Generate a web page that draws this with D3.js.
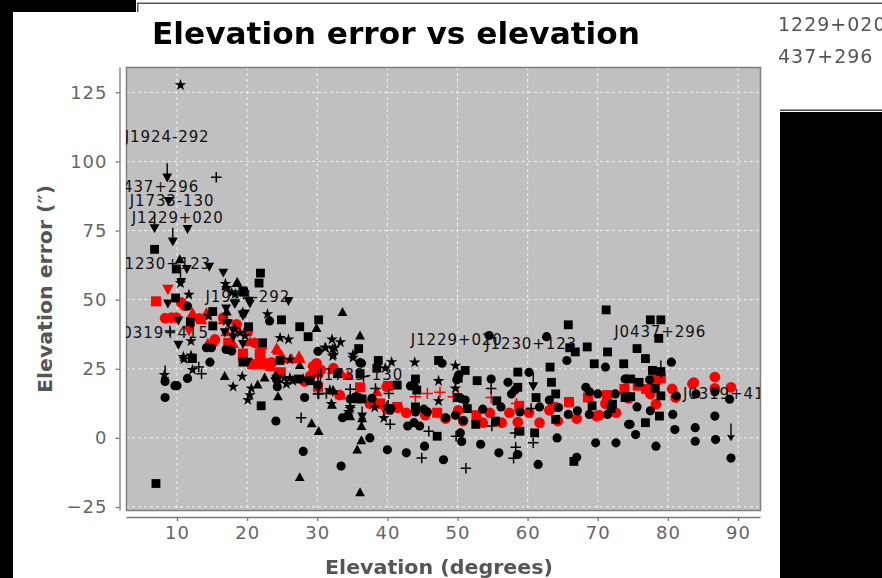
<!DOCTYPE html>
<html><head><meta charset="utf-8">
<script src="https://cdn.jsdelivr.net/npm/d3@7"></script>
<style>html,body{margin:0;padding:0;background:#000;overflow:hidden}svg{display:block;filter:blur(0.35px)}text{font-family:"DejaVu Sans",sans-serif}</style>
</head><body><svg id="c" width="882" height="578"></svg>
<script>
const xTicks=[10,20,30,40,50,60,70,80,90];
const yTicks=[-25,0,25,50,75,100,125];
const titleText="Elevation error vs elevation";
const xTitle="Elevation (degrees)";
const yTitle="Elevation error (″)";
const sideLabels=["1229+020","437+296"];
const labelNames=["J1924-292","J0437+296","J1733-130","J1229+020","J1230+123","J1924-292","J0319+415","J1733-130","J1229+020","J1230+123","J0437+296","J0319+415"];
const labelElev=[8.6,6.6,9.3,10.1,8.3,20.1,8,36.2,49.9,60.5,78.9,88.7];
const labelErr=[109.1,91,86,79.5,63.2,51,38,23,35.6,34.2,38.6,16];

const blackCircles=[[8.3,14.6],[8.3,20.4],[9.7,18.9],[10,18.9],[11.5,21.5],[11.5,47.6],[14.7,27.4],[14.2,32.6],[14.9,32.6],[17,32],[17.5,32],[17.8,31.4],[24.1,6.1],[28,-4.9],[33.4,-10.2],[37.5,0],[40,-4.3],[28.2,14.6],[33.6,7.3],[34.4,8.2],[23.2,42.3],[30.1,31.3],[30.1,19.1],[24.3,18.5],[24.2,21],[36.3,27],[36.1,14.3],[35.6,14.9],[37.8,14.3],[40.4,10],[42.7,-5.4],[45.3,-3],[48,-7.9],[50.6,-1.3],[50.4,1.8],[53.3,-2.3],[55.9,-5.4],[58.6,-6],[61.5,-9.6],[64.2,0],[67,-7],[69.7,-1.8],[72.6,-1.8],[42.9,4.3],[43.8,5.5],[44.6,4.3],[48.3,7.3],[50.8,6.3],[53.6,10.4],[56.2,11.2],[54.8,21.3],[57.2,20.1],[60.2,23.7],[57.7,15.9],[58.2,17.3],[58.9,9.4],[61.7,11.2],[64.4,11],[65.8,8.5],[67.1,9.8],[68.8,8.5],[71.4,8.5],[74.4,4.9],[68.3,18.3],[68.8,16.7],[70,15.9],[71.1,25.6],[72.5,15.9],[73.9,21.3],[65.6,28],[54.5,37],[62.7,36.6],[63.1,13.7],[43.8,18.9],[43.3,18.8],[44,9.4],[45.2,10.4],[45.7,9.4],[47.8,27],[49.9,21],[50.2,22.8],[50.4,14.3],[51.1,13.7],[49.7,8.2],[40.5,10.6],[80.5,27.4],[81.2,15.2],[80.7,8.5],[81,3],[83.9,3.7],[83.9,-1.2],[86.7,7.9],[86.8,-0.6],[89,-7.3],[88.8,14],[86.7,16.7],[84,15.9],[78.3,-3],[75.4,1.2],[74.6,4.9],[77.5,9.8],[75.6,11.2],[74.1,21.3],[77.4,21],[34.7,14.1],[36.1,27.2]];
const blackSquares=[[71.2,46.3],[77.5,42.7],[79,42.7],[78.7,36],[75.6,32.3],[71.4,31.1],[76.8,28.7],[73.7,26.8],[77.8,24.4],[79,24],[75.9,20.1],[74.7,21.3],[78.2,17.9],[79,15.2],[74,14.9],[74.7,14.9],[72.1,12.2],[71.9,10.6],[78.8,7.9],[76.8,5.5],[65.8,40.9],[68.5,32.9],[66,32.6],[66.8,31.1],[69.5,26.8],[63.2,25.6],[63.4,20.1],[64,15.9],[69.2,11.6],[73.9,14.6],[64,6.7],[66.6,-8.5],[61,1.8],[58.9,2.4],[61.2,14.6],[58.6,23.8],[58.6,18.3],[55.6,13.4],[52.8,20.7],[51.1,24.4],[47.3,28],[44,21.3],[44.2,17.3],[44,11.2],[51.4,10.6],[52.6,4.9],[55.4,6.1],[47.1,0.6],[41.4,19.1],[50,14.6],[50.1,21.6],[7,-16.5],[9.8,50.6],[15.1,45.7],[11.9,42],[15.1,40.5],[19.5,52.7],[21.7,56],[24.9,42.7],[27.5,40.2],[30.2,42.7],[28.7,36.6],[20.2,40.2],[22.2,34.4],[12.2,28.7],[24.7,28],[19.4,27.4],[22,11.6],[29,20.7],[27.3,21.3],[35.9,32.3],[38.7,28],[38.5,25.2],[36.1,23.2],[32.9,23.2],[35.6,14.6],[6.8,68.2],[21.9,59.6],[19.4,53.2],[9.9,61.1],[35.7,14.1],[36.4,14.1]];
const blackTriUp=[[33.6,45.7],[36.1,37.2],[16.8,22.6],[22.5,22],[24.4,15.2],[27.5,-14],[29.2,5.5],[30.2,2.7],[32.1,12.2],[36.3,4.5],[36.3,-0.7],[35.7,-4],[36.1,-19.5],[21.5,19.5],[32.3,17.3],[29.9,39.9],[18.6,56.6],[27.5,26.5],[24,22.8],[18.5,56.2],[17,55],[10.4,64.8],[12.1,29],[17.1,45.9],[36.4,7.3],[34.7,8]];
const blackTriDown=[[8.6,94],[8.8,85.5],[6.8,75.7],[11.5,75.4],[9.4,70.9],[10.6,56.2],[11.4,60.9],[14.6,61.7],[16.6,59.6],[8.7,48.4],[10.2,42.3],[10.2,33.5],[20.3,49.4],[25.9,49.3],[19.7,44.8],[17,46.6],[18.2,48.4],[18,36.2],[19.4,33.8],[20.1,27.4],[36.4,7.6],[60.8,18.5],[18.3,48.4],[20.4,48.4],[19.4,44],[17.3,41.2],[18,38.7],[16.8,38]];
const blackStars=[[10.5,127.6],[10.5,56],[11.7,51.8],[8.2,22.8],[12,29.8],[10.9,29.3],[12,35],[19.3,22.2],[18,18.5],[20.1,13.7],[20.4,15.5],[20.6,17.9],[22.9,44.8],[24.7,36.2],[25.9,35.6],[26.1,28.3],[26.1,21.6],[32.1,35.6],[33.3,34.6],[31.2,32.6],[32.5,32.6],[32.3,30.1],[35.1,30.1],[40.6,27.4],[39.7,25.2],[39.9,11.2],[39.5,7.2],[38.2,11],[34.7,11.2],[34.5,9.4],[31.8,17.3],[16.9,55.7],[17,42.3],[18.2,39.3],[19.4,45.4],[14.5,44.1],[24.2,22.2],[25.3,21.6],[43.9,27.3],[47.3,20.6],[47.3,13.3],[49.7,26.1],[49.7,17.9],[11,28.5],[12.2,24.6],[17.1,54.3],[17.8,52.5],[18.3,52],[19,38],[19.7,36.9],[31.1,32.6],[32.2,32.2],[32.2,29.6],[35.1,29],[26.5,20.6],[24.4,20],[25.6,19.5],[28,21.3],[34.7,10.5],[32,12.3]];
const blackPlus=[[15.6,94.3],[9,38.7],[13.1,25.6],[13.5,23.2],[40.4,4.9],[27.7,7.3],[30.1,22.6],[30.2,16.1],[31.3,16.1],[34.7,17.6],[36.6,22.2],[38.3,17.9],[40.2,16.1],[40.1,11.8],[45.9,2.4],[44.9,-7.3],[51.2,-11],[54.8,17.9],[54.9,4.3],[58.2,1.8],[58.3,-3.4],[58,-7.4],[60.8,-1.8],[49.8,0.6],[60.5,10.6],[30.1,15.9],[32.2,17]];
const limitArrows=[[8.6,93],[6.8,74.5],[9.4,69.6],[10.5,55],[8.3,19.8],[36.4,5],[60.8,17.3],[79,21.6],[89,-1.2]];
const redCircles=[[8.3,43.3],[9.9,43.5],[9.2,43.5],[10.6,49],[11.1,47.8],[13.2,43.2],[16.6,43.5],[18.5,41.1],[20.1,38.7],[15.4,35.6],[21.1,34.4],[23.5,27.3],[28.2,20.4],[29.9,27],[30.5,24.6],[29.4,25.9],[32.3,25.2],[33.2,15.5],[37.5,12.4],[39.9,18.5],[42.7,9.1],[45.4,8.2],[48.3,7],[50.8,6.1],[50.1,10],[53.6,5.5],[54.6,9.1],[56.3,5.5],[57.4,9.1],[58.6,5.7],[60.2,9.1],[61.7,5.5],[63.1,10],[64.3,6.1],[67,7],[69.8,7.9],[71.1,12.4],[72.6,9.1],[74.4,14.3],[77.5,15.9],[78.3,12.2],[80.6,17.7],[81.1,14.6],[83.7,20],[83.5,19.5],[86.7,22],[86.7,17.9],[89,18.3],[70.2,8.2],[39.9,10.4],[41.5,10.9],[38,12.8],[29.7,26],[29,22.4]];
const redSquares=[[7,49.4],[17.3,34.4],[19.4,30.5],[21.9,30.5],[22,27],[22.8,27],[24.8,23.7],[30.1,18.5],[36.1,18.3],[39,12.4],[41.4,11.2],[47.1,9.1],[52.7,8.2],[58.8,11.6],[63.6,11.2],[65.9,13],[68.6,14.6],[71.3,15.5],[73.8,17.7],[75.7,18.9],[76.9,17.7],[78.3,21],[79,21.6],[19.4,29.6],[21.8,30.4],[22.2,26.7],[23.3,26],[20.7,26.7],[24.7,23.6],[30.1,23.6],[40.1,18.8],[38.7,12.4]];
const redTriUp=[[12.2,45.4],[14.2,45.4],[14.4,34.4],[17,38.7],[24.2,32.6],[24.9,30.1],[26.3,28.9],[27.4,29.8],[29,23.4],[34.4,22.8],[22.1,34],[16.6,43],[18.5,40.5],[15.1,35],[18,34.4],[20.4,35],[20,38.7],[12.3,44.8],[13.5,43],[14.2,44.8],[24.4,32],[25.1,29],[27.5,29],[32.2,25],[33.5,23.6],[33.3,15.9],[38.5,17]];
const redTriDown=[[8.7,53.5],[11.7,38.7]];
const redPlus=[[40,18.5],[44,14.9],[45.7,16.1],[47.5,16.5],[49.4,14.9],[50.1,15.5],[54.8,14.6],[58.4,12.4]];

const svg=d3.select("#c");
const x=d3.scaleLinear().domain([2.727,93.137]).range([126,760]);
const y=d3.scaleLinear().domain([134.15,-26.08]).range([67,510]);

// page panels
const panel=(a,b,w,h,f)=>svg.append("rect").attr("x",a).attr("y",b).attr("width",w).attr("height",h).attr("fill",f);
panel(13,12,767,566,"#fff");
panel(136,0,746,112,"#fff");
panel(137,2.5,745,1.5,"#555");
panel(137,3,1.5,9,"#555");
panel(780,109.5,102,1.5,"#444");

// plot background and clip
panel(126,67,634,443,"#c0c0c0");
svg.append("clipPath").attr("id","pc").append("rect").attr("x",126).attr("y",67).attr("width",634).attr("height",443);

// grid
const grid=svg.append("g").attr("stroke","#f0f0f0").attr("stroke-width",1).attr("stroke-dasharray","3,3");
grid.selectAll("line.v").data(xTicks).join("line").attr("x1",d=>x(d)).attr("x2",d=>x(d)).attr("y1",67).attr("y2",510);
grid.selectAll("line.h").data(yTicks).join("line").attr("y1",d=>y(d)).attr("y2",d=>y(d)).attr("x1",126).attr("x2",760);

// border
svg.append("rect").attr("x",126.5).attr("y",67.5).attr("width",634).attr("height",443).attr("fill","none").attr("stroke","#808080").attr("stroke-width",1.5);

// axes
const styleAxis=g=>{g.selectAll("path,line").attr("stroke","#777").attr("stroke-width",1.3);
 g.selectAll("text").attr("fill","#666").attr("font-size",18).attr("letter-spacing",1).attr("font-family","DejaVu Sans");};
svg.append("g").attr("transform","translate(0,517)").call(d3.axisBottom(x).tickValues(xTicks).tickFormat(d3.format("d")).tickSize(4).tickSizeOuter(0).tickPadding(5)).call(styleAxis);
svg.append("g").attr("transform","translate(119.5,0)").call(d3.axisLeft(y).tickValues(yTicks).tickFormat(d=>String(d).replace("-","−")).tickSize(4).tickSizeOuter(0).tickPadding(8)).call(styleAxis);

// marks
const triUp={draw(c,s){const r=Math.sqrt(s)/2;c.moveTo(0,-r);c.lineTo(r*1.1,r);c.lineTo(-r*1.1,r);c.closePath();}};
const triDown={draw(c,s){const r=Math.sqrt(s)/2;c.moveTo(0,r);c.lineTo(r*1.1,-r);c.lineTo(-r*1.1,-r);c.closePath();}};
const thinPlus={draw(c,s){const r=Math.sqrt(s)/2,t=0.75;c.moveTo(-r,-t);c.lineTo(-t,-t);c.lineTo(-t,-r);c.lineTo(t,-r);c.lineTo(t,-t);c.lineTo(r,-t);c.lineTo(r,t);c.lineTo(t,t);c.lineTo(t,r);c.lineTo(-t,r);c.lineTo(-t,t);c.lineTo(-r,t);c.closePath();}};
const arrow={draw(c,s){const r=Math.sqrt(s)/2;c.moveTo(0,0);c.lineTo(-r,-r*1.6);c.lineTo(-0.7,-r*1.4);c.lineTo(-0.7,-r*4.4);c.lineTo(0.7,-r*4.4);c.lineTo(0.7,-r*1.4);c.lineTo(r,-r*1.6);c.closePath();}};
const marks=svg.append("g").attr("clip-path","url(#pc)");
const plot=(data,type,size,fill)=>marks.append("g").selectAll("path").data(data).join("path")
 .attr("transform",d=>`translate(${x(d[0])},${y(d[1])})`)
 .attr("d",d3.symbol().type(type).size(size)()).attr("fill",fill);
const RED="#ff0000",BLK="#000";
plot(redPlus,thinPlus,130,RED);
plot(redTriUp,triUp,110,RED);
plot(redTriDown,triDown,110,RED);
plot(redSquares,d3.symbolSquare,100,RED);
plot(redCircles,d3.symbolCircle,90,RED);
plot(blackPlus,thinPlus,110,BLK);
plot(blackStars,d3.symbolStar,42,BLK);
plot(blackTriUp,triUp,80,BLK);
plot(blackTriDown,triDown,80,BLK);
plot(blackSquares,d3.symbolSquare,78,BLK);
plot(blackCircles,d3.symbolCircle,66,BLK);
plot(limitArrows,arrow,64,BLK);

// point labels
marks.append("g").selectAll("text").data(labelNames).join("text")
 .attr("x",(d,i)=>x(labelElev[i])).attr("y",(d,i)=>y(labelErr[i])).attr("dy","0.36em")
 .attr("text-anchor","middle").attr("font-size",15).attr("letter-spacing",0.9).attr("fill","#111").text(d=>d);

// side text
svg.selectAll("text.side").data(sideLabels).join("text").attr("class","side")
 .attr("x",778).attr("y",(d,i)=>31+i*32).attr("font-size",19).attr("letter-spacing",1).attr("fill","#555").text(d=>d);

// titles
svg.append("text").attr("x",152).attr("y",44).attr("font-size",31).attr("font-weight","bold").attr("fill","#000")
 .attr("textLength",488).attr("lengthAdjust","spacingAndGlyphs").text(titleText);
svg.append("text").attr("x",325).attr("y",574).attr("font-size",20).attr("font-weight","bold").attr("fill","#555")
 .attr("textLength",228).attr("lengthAdjust","spacingAndGlyphs").text(xTitle);
svg.append("text").attr("transform","translate(52,393) rotate(-90)").attr("font-size",20).attr("font-weight","bold").attr("fill","#555")
 .attr("textLength",208).attr("lengthAdjust","spacingAndGlyphs").text(yTitle);
</script></body></html>
